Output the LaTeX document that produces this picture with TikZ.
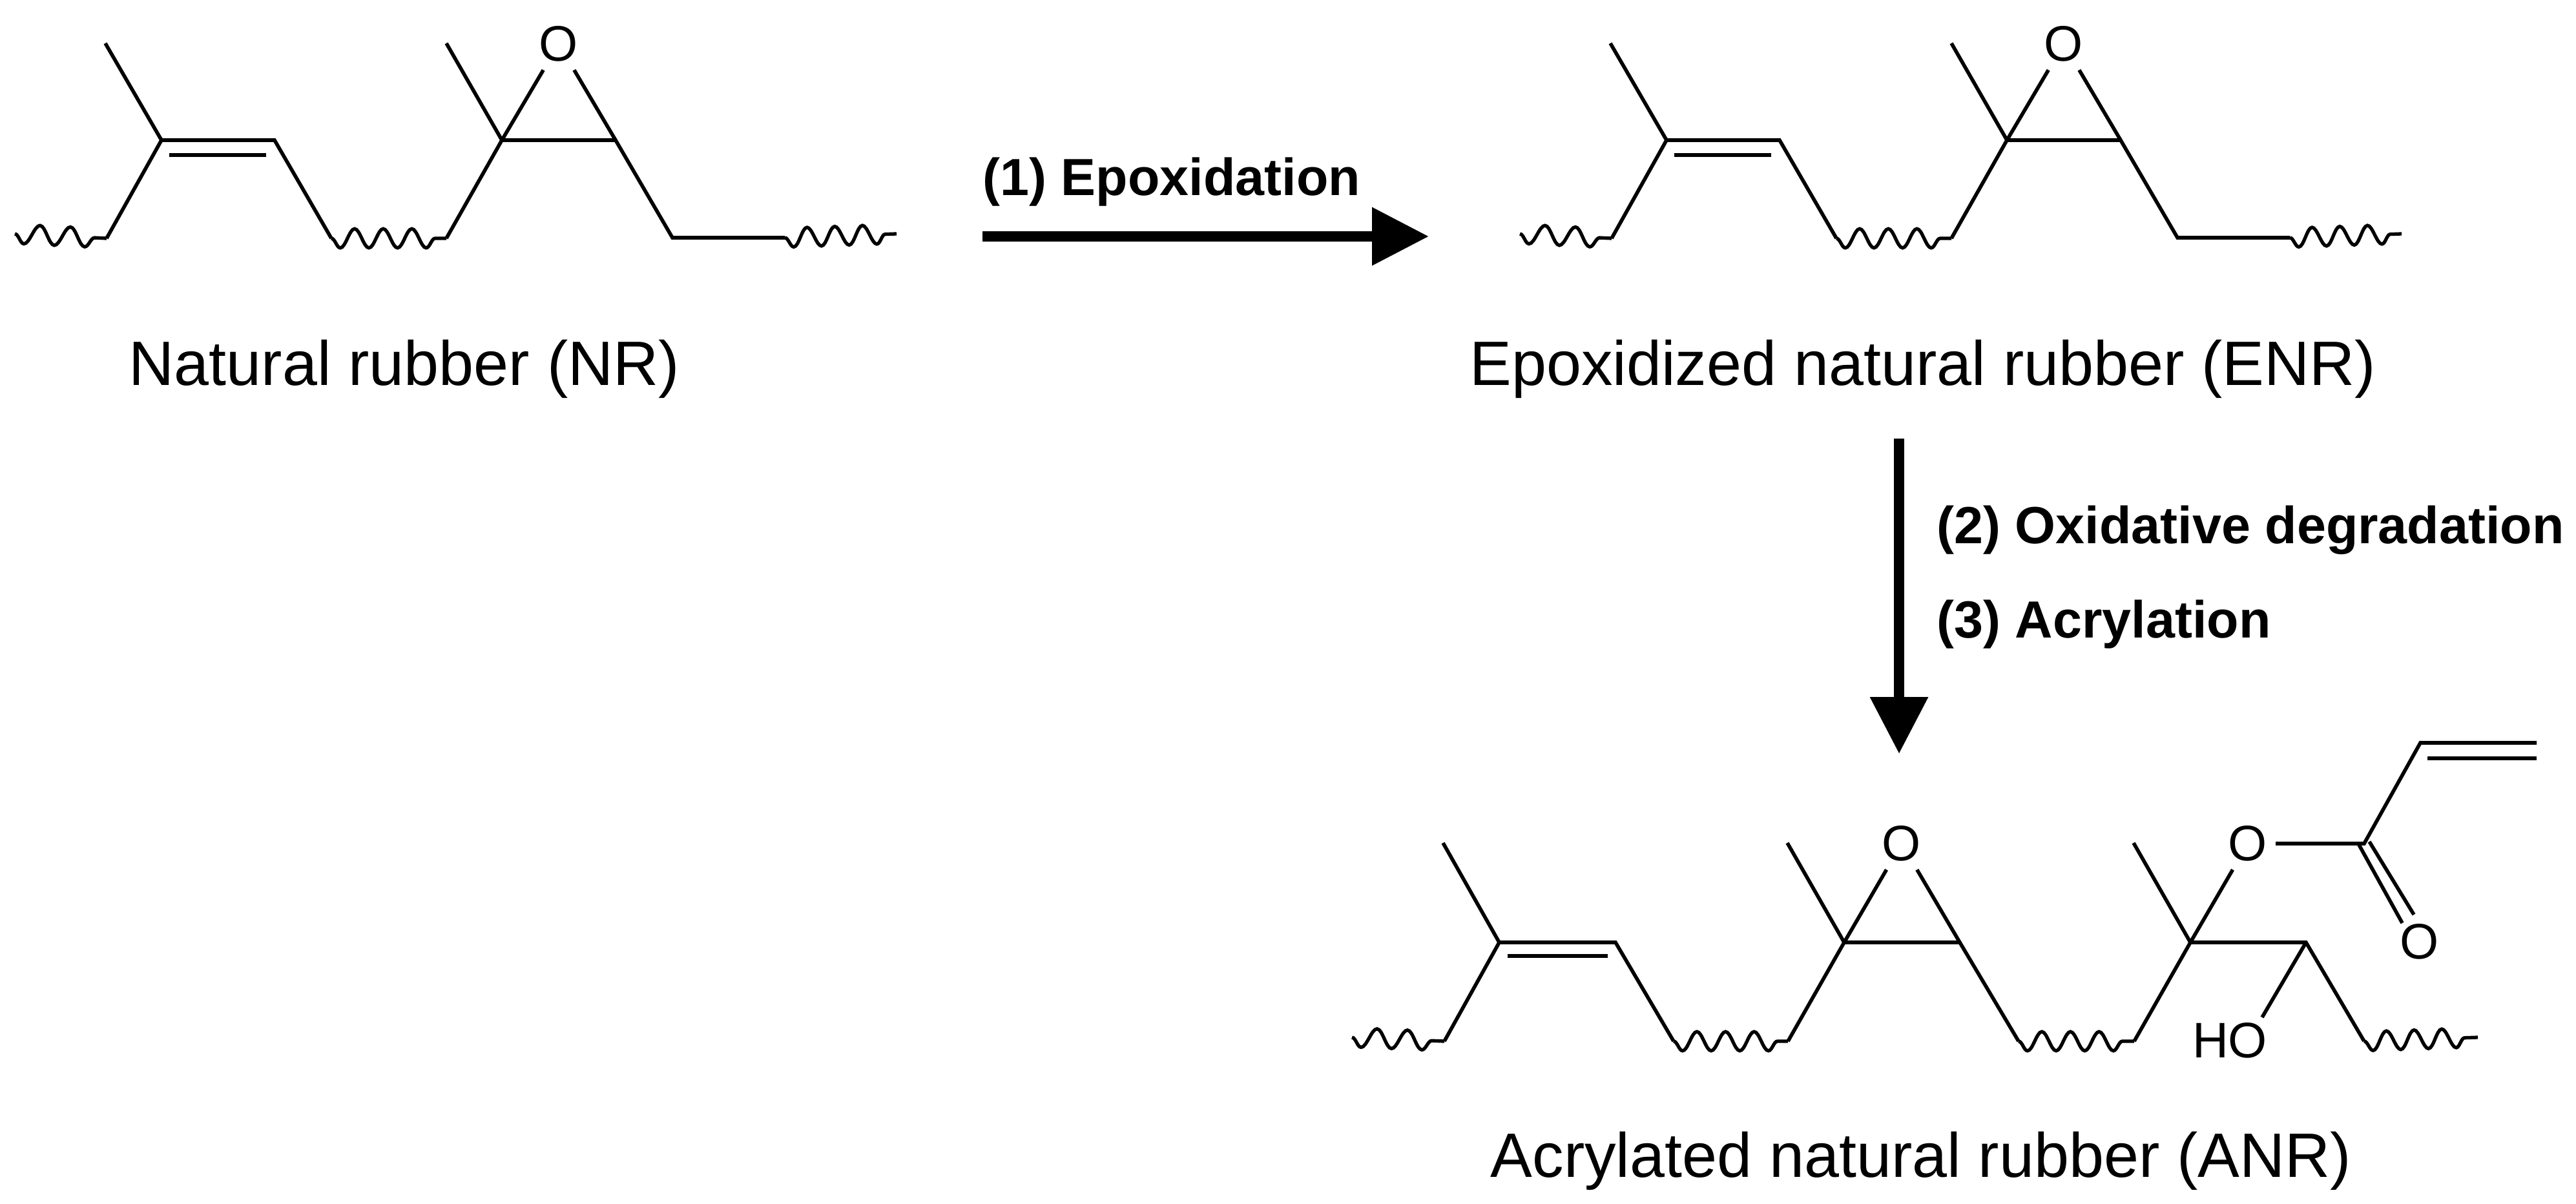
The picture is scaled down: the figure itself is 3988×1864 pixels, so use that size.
\documentclass[tikz,border=0pt]{standalone}
\usepackage{fontspec}
\setmainfont{Liberation Sans}
\usetikzlibrary{arrows.meta,decorations.pathmorphing}
\tikzset{
	bond/.style={line width=1.6pt},
	wavy/.style={line width=1.5pt,decorate,decoration={snake,amplitude=4.2pt,segment length=#1,mirror}},
	wavy/.default=12.6pt,
	atom/.style={font=\fontsize{22}{26}\selectfont,inner sep=3.5pt},
	caption/.style={font=\fontsize{27.6}{32}\selectfont,inner sep=0pt},
	reagent/.style={font=\fontsize{23}{28}\selectfont\bfseries,inner sep=0pt,anchor=base west},
	bigarrow/.style={line width=4.5pt,-{Triangle[length=25pt,width=24.5pt]}}
}
\begin{document}
\begin{tikzpicture}[x=0.01cm,y=-0.01cm]
	\useasboundingbox (0,0) rectangle (3988,1864);
	
	% Draw the NR and ENR chains
	\foreach \chain/\dx in {nr/0,enr/2330}{
		\begin{scope}[xshift=\dx*0.01cm,name prefix=\chain-]
			\coordinate (end1) at (23,362);
			\coordinate (a) at (165,369);
			\coordinate (me1) at (163,67);
			\coordinate (c1) at (250,217);
			\coordinate (c2) at (425,217);
			\coordinate (in1) at (262,240);
			\coordinate (in2) at (412,240);
			\coordinate (b) at (513,369);
			\coordinate (d) at (691,369);
			\coordinate (me2) at (691,67);
			\coordinate (c3) at (777,217);
			\coordinate (c4) at (953,217);
			\coordinate (e) at (1041,368);
			\coordinate (f) at (1215,368);
			\coordinate (end2) at (1388,362);
			\node[atom] (o) at (865,68) {O};
			
			\draw[bond] (me1) -- (c1) -- (a);
			\draw[bond] (c1) -- (c2) -- (b);
			\draw[bond] (in1) -- (in2);
			\draw[bond] (d) -- (c3) -- (c4) -- (e) -- (f);
			\draw[bond] (me2) -- (c3);
			\draw[bond] (c3) -- (o);
			\draw[bond] (c4) -- (o);
			\draw[wavy=13.4pt] (end1) -- (a);
			\draw[wavy] (b) -- (d);
			\draw[wavy=12.2pt] (f) -- (end2);
		\end{scope}
	}
	
	% Draw the ANR chain
	\coordinate (end1) at (2093,1606);
	\coordinate (a) at (2236,1612);
	\coordinate (me1) at (2234,1305);
	\coordinate (c1) at (2321,1459);
	\coordinate (c2) at (2501,1459);
	\coordinate (in1) at (2334,1480);
	\coordinate (in2) at (2489,1480);
	\coordinate (b) at (2591,1612);
	\coordinate (d) at (2768,1612);
	\coordinate (me2) at (2767,1305);
	\coordinate (c3) at (2855,1459);
	\coordinate (c4) at (3034,1459);
	\coordinate (e) at (3125,1612);
	\coordinate (g) at (3304,1612);
	\coordinate (me3) at (3303,1305);
	\coordinate (c5) at (3391,1459);
	\coordinate (c6) at (3570,1459);
	\coordinate (hoend) at (3502,1575);
	\coordinate (h) at (3660,1612);
	\coordinate (end2) at (3836,1606);
	\coordinate (co) at (3660,1306);
	\coordinate (vi1) at (3747,1150);
	\coordinate (vi2) at (3927,1150);
	\coordinate (in3) at (3758,1174);
	\coordinate (in4) at (3927,1174);
	\coordinate (co1) at (3652,1308);
	\coordinate (co2) at (3668,1303);
	\coordinate (co3) at (3719,1429);
	\coordinate (co4) at (3737,1416);
	\node[atom] (o1) at (2944,1306) {O};
	\node[atom] (o2) at (3480,1306) {O};
	\node[atom] (o3) at (3746,1458) {O};
	\node[atom,inner sep=0pt] (ho) at (3452,1611) {HO};
	
	\draw[bond] (me1) -- (c1) -- (a);
	\draw[bond] (c1) -- (c2) -- (b);
	\draw[bond] (in1) -- (in2);
	\draw[bond] (d) -- (c3) -- (c4) -- (e);
	\draw[bond] (me2) -- (c3);
	\draw[bond] (c3) -- (o1);
	\draw[bond] (c4) -- (o1);
	\draw[bond] (g) -- (c5) -- (c6) -- (h);
	\draw[bond] (me3) -- (c5);
	\draw[bond] (c5) -- (o2);
	\draw[bond] (c6) -- (hoend);
	\draw[bond] (o2) -- (co) -- (vi1) -- (vi2);
	\draw[bond] (in3) -- (in4);
	\draw[bond] (co1) -- (co3);
	\draw[bond] (co2) -- (co4);
	\draw[wavy=13.4pt] (end1) -- (a);
	\draw[wavy] (b) -- (d);
	\draw[wavy] (e) -- (g);
	\draw[wavy=12.2pt] (h) -- (end2);
	
	% Draw the captions
	\node[caption] (nrname) at (626,571) {Natural rubber (NR)};
	\node[caption] (enrname) at (2977,571) {Epoxidized natural rubber (ENR)};
	\node[caption] (anrname) at (2974,1797) {Acrylated natural rubber (ANR)};
	
	% Draw the reaction arrows and their labels
	\coordinate (s1) at (1521,366);
	\coordinate (t1) at (2212,366);
	\coordinate (s2) at (2940,679);
	\coordinate (t2) at (2940,1167);
	\draw[bigarrow] (s1) -- (t1);
	\draw[bigarrow] (s2) -- (t2);
	\node[reagent] (step1) at (1521,303) {(1) Epoxidation};
	\node[reagent] (step2) at (2998,841) {(2) Oxidative degradation};
	\node[reagent] (step3) at (2998,987) {(3) Acrylation};
\end{tikzpicture}
\end{document}
